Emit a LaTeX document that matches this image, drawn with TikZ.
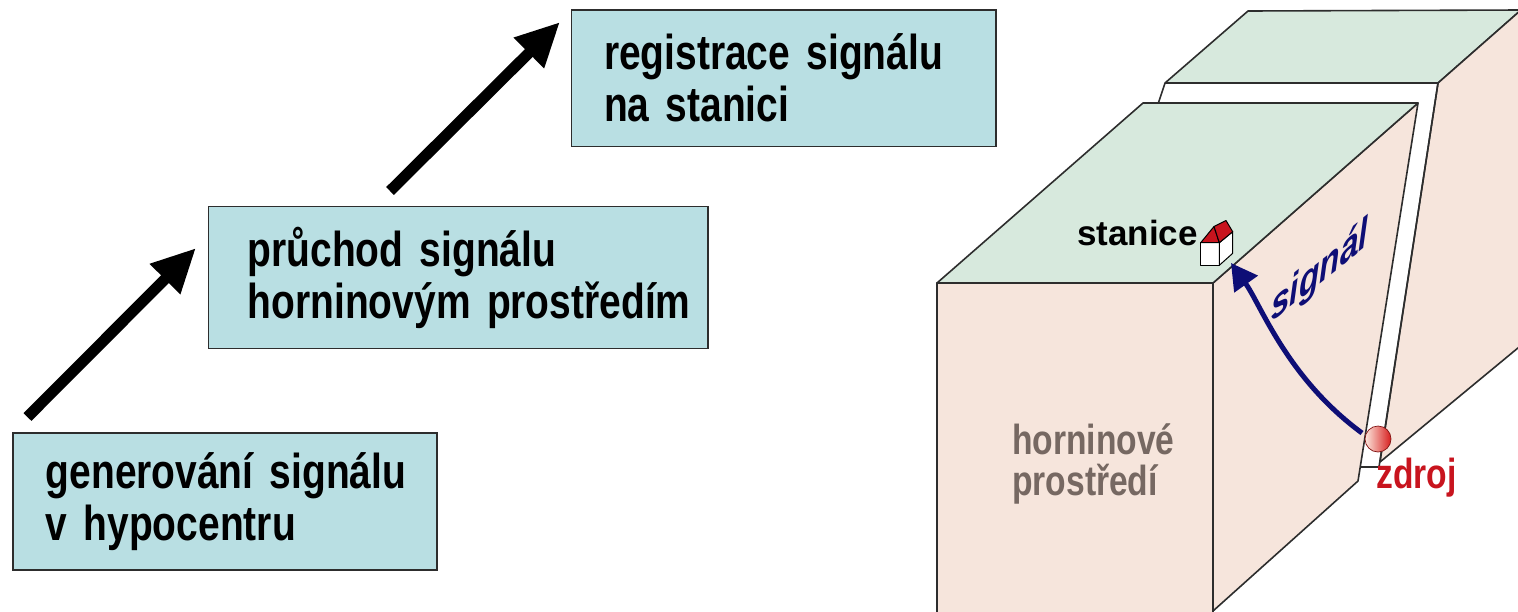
\documentclass[tikz,border=0pt]{standalone}
\usepackage{fontspec}
\setmainfont{Liberation Sans}
\newfontfamily\narrowfont{Liberation Sans}[FakeStretch=0.795]
\newfontfamily\condfont{Liberation Sans}[FakeStretch=0.8]
\usetikzlibrary{arrows.meta}
\definecolor{boxcyan}{RGB}{185,223,227}
\definecolor{topgreen}{RGB}{215,233,221}
\definecolor{sidepink}{RGB}{246,229,220}
\definecolor{sigblue}{RGB}{14,14,118}
\definecolor{rockgray}{RGB}{118,104,98}
\definecolor{srcred}{RGB}{200,20,30}
\definecolor{ballred}{RGB}{215,30,30}
\definecolor{balllight}{RGB}{252,232,222}
\definecolor{edgegray}{RGB}{45,45,45}
\begin{document}
\begin{tikzpicture}[x=1pt,y=-1pt,
  stepbox/.style={draw=edgegray, line width=1.5pt, fill=boxcyan, anchor=north west,
    align=left, inner ysep=0pt,
    font={\narrowfont\bfseries\fontsize{49}{52}\selectfont\spaceskip=10pt\relax}},
  bigarrow/.style={line width=11pt, black, -{Triangle[length=44pt,width=40pt]}},
  face/.style={draw=edgegray, line width=1.6pt, line join=round},
  housepart/.style={draw=black, line width=1pt, line join=round},
  sigarrow/.style={line width=5pt, sigblue, -{Triangle[length=26pt,width=28pt]}},
  lbl/.style={inner sep=0pt, font=\condfont\bfseries\fontsize{42}{41}\selectfont},
]
\clip (0,0) rectangle (1518,611);
\fill[white] (0,0) rectangle (1518,611);

% ---------- boxes ----------
\node[stepbox, minimum width=424pt, minimum height=137pt, inner xsep=33pt, text width=358pt]
  (gen) at (12,432) {\mbox{generování signálu}\\\mbox{v hypocentru}};
\node[stepbox, minimum width=499.5pt, minimum height=142pt, inner xsep=39.5pt, text width=420.5pt]
  (pass) at (207.5,205.8) {\mbox{průchod signálu}\\\mbox{horninovým prostředím}};
\node[stepbox, minimum width=424.3pt, minimum height=136.4pt, inner xsep=32.6pt, text width=359pt]
  (reg) at (570.7,9.3) {\mbox{registrace signálu}\\\mbox{na stanici}};

% ---------- black arrows ----------
\coordinate (a1s) at (27.5,417);
\coordinate (a1e) at (196,248);
\coordinate (a2s) at (390,191);
\coordinate (a2e) at (560,22);
\draw[bigarrow] (a1s) -- (a1e);
\draw[bigarrow] (a2s) -- (a2e);

% ---------- back block ----------
\draw[face, fill=topgreen] (1165,83) -- (1248,11) -- (1521,10) -- (1438,83) -- cycle;
\draw[face, fill=sidepink] (1438,83) -- (1521,10) -- (1530,10) -- (1530,338) -- (1380,462) -- cycle;
\draw[face] (1165,83) -- (1158,104);
\draw[face] (1438,83) -- (1379,467) -- (1361,467);

% ---------- front block ----------
\draw[face, fill=sidepink] (937,283) rectangle (1213,625);
\draw[face, fill=sidepink] (1213,283) -- (1418,103) -- (1358,481) -- (1213,611) -- cycle;
\draw[face, fill=topgreen] (937,283) -- (1143,103) -- (1418,103) -- (1213,283) -- cycle;

% ---------- station house ----------
\draw[housepart, fill=white] (1200.7,242.7) rectangle (1219.3,265.3);
\draw[housepart, fill=white] (1219.3,242.7) -- (1232.7,231.7) -- (1232.7,253.3) -- (1219.3,265.3) -- cycle;
\draw[housepart, fill=srcred] (1200.7,242.7) -- (1214,226.5) -- (1219.3,242.7) -- cycle;
\draw[housepart, fill=srcred] (1214,226.5) -- (1226,220.5) -- (1232.7,231.7) -- (1219.3,242.7) -- cycle;
\coordinate (house) at (1231,263);

% ---------- labels ----------
\node[lbl, font=\bfseries\fontsize{35}{38}\selectfont, anchor=base west] (stan) at (1077,245) {stanice};
\node[lbl, text=rockgray, align=left, anchor=west] (rock) at (1012,464) {horninové\\prostředí};

% ---------- signal path ----------
\coordinate (src) at (1362,433);
\draw[sigarrow] (src) .. controls (1287,378) and (1261,305) .. (house);
\node[circle, minimum size=26pt, inner sep=0pt, left color=balllight, right color=ballred,
  draw=ballred!60!black, line width=0.7pt] (ball) at (1378,439) {};
\node[lbl, text=srcred, anchor=base west] (zdroj) at (1376,488) {zdroj};
\node[lbl, text=sigblue, font=\condfont\bfseries\itshape\fontsize{42}{38}\selectfont,
  anchor=base west, yslant=0.8] (sig) at (1271,323) {signál};
\end{tikzpicture}
\end{document}
